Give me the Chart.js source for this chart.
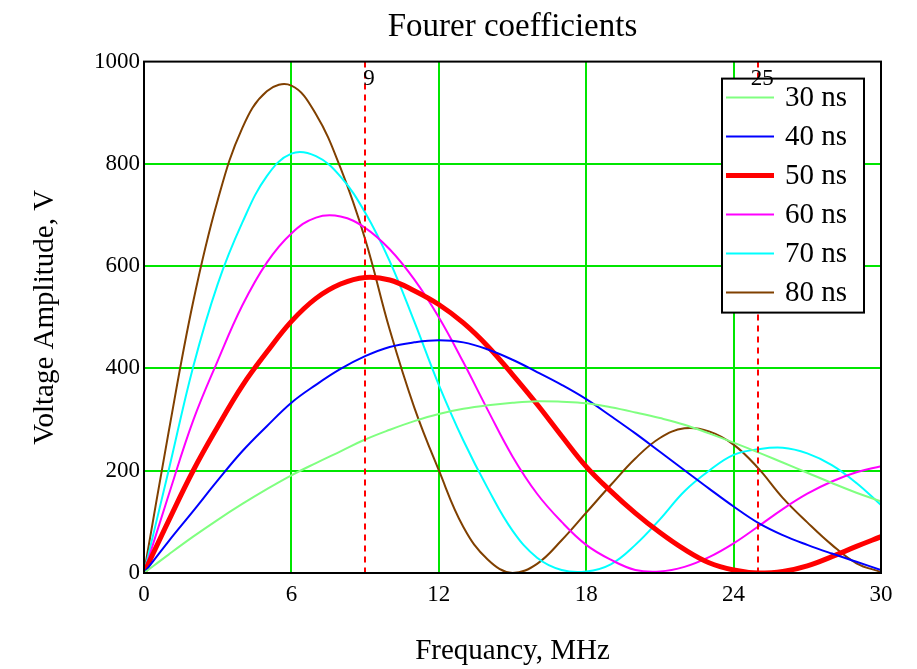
<!DOCTYPE html>
<html>
<head>
<meta charset="utf-8">
<title>Fourer coefficients</title>
<script src="https://cdn.jsdelivr.net/npm/chart.js@4.4.0/dist/chart.umd.min.js"></script>
<style>
  body { margin: 0; background: #fff; }
  #wrap { width: 917px; height: 669px; }
</style>
</head>
<body>
<div id="wrap"><canvas id="myChart" width="917" height="669"></canvas></div>
<script>
// frequency samples, MHz
const freqs = [0,1,2,3,4,5,6,7,8,9,10,11,12,13,14,15,16,17,18,19,20,21,22,23,24,25,26,27,28,29,30];

// amplitudes, V
const amp30 = [0,36,71,104,135,164,191,215,238,261,280,297,311,321,328,333,336,335,332,324,314,303,290,273,255,236,216,196,176,157,140];
const amp40 = [0,62,121,181,238,287,333,368,399,424,442,451,455,451,437,417,393,368,340,307,273,237,201,165,130,98,74,55,38,22,6];
const amp50 = [0,102,200,286,366,432,492,537,565,578,573,552,525,489,443,388,330,268,208,160,117,79,46,20,6,0,3,14,32,52,71];
const amp60 = [0,152,298,415,523,607,664,695,697,675,633,574,500,412,318,228,155,100,55,26,6,3,12,31,58,91,125,155,179,197,209];
const amp70 = [0,200,403,565,685,776,820,815,775,705,610,492,368,259,165,83,30,6,3,17,55,105,160,200,231,242,245,234,211,176,133];
const amp80 = [0,275,530,729,870,942,953,897,792,653,476,324,201,90,26,0,18,64,118,172,224,264,283,277,251,205,147,99,55,19,2];

const seriesNames = ['30 ns','40 ns','50 ns','60 ns','70 ns','80 ns'];
const seriesColors = ['#80ff80','#0000ff','#ff0000','#ff00ff','#00ffff','#804000'];
const seriesWidths = [2,2,5,2,2,2];
const allAmps = [amp30, amp40, amp50, amp60, amp70, amp80];

// dashed marker lines
const markerFreqs = [9, 25];

const xTicks = [0,6,12,18,24,30];
const yTicks = [0,200,400,600,800,1000];

const serif = "'Liberation Serif', 'Times New Roman', serif";

let datasets = allAmps.map(function(a, i) {
  return {
    label: seriesNames[i],
    data: freqs.map(function(f, j) { return {x: f, y: a[j]}; }),
    borderColor: seriesColors[i],
    backgroundColor: seriesColors[i],
    borderWidth: seriesWidths[i],
    pointRadius: 0,
    tension: 0.4,
    fill: false
  };
});

const extras = {
  id: 'extras',
  afterDatasetsDraw(chart) {
    const ctx = chart.ctx;
    const area = chart.chartArea;
    const xs = chart.scales.x;

    // dashed red lines
    ctx.save();
    ctx.strokeStyle = '#ff0000';
    ctx.lineWidth = 2;
    ctx.setLineDash([6, 5]);
    markerFreqs.forEach(function(f) {
      const px = Math.round(xs.getPixelForValue(f));
      ctx.beginPath();
      ctx.moveTo(px, area.top);
      ctx.lineTo(px, area.bottom);
      ctx.stroke();
    });
    ctx.restore();

    // frame
    ctx.save();
    ctx.strokeStyle = '#000';
    ctx.lineWidth = 2;
    ctx.strokeRect(area.left, area.top, area.right - area.left, area.bottom - area.top);
    ctx.restore();

    // legend box
    const boxW = 142, boxH = 234, rowH = 39;
    const bx = area.right - 17 - boxW;
    const by = area.top + 17;
    ctx.save();
    ctx.fillStyle = '#fff';
    ctx.fillRect(bx, by, boxW, boxH);
    ctx.strokeStyle = '#000';
    ctx.lineWidth = 2;
    ctx.strokeRect(bx, by, boxW, boxH);
    ctx.font = '29px ' + serif;
    ctx.textBaseline = 'middle';
    ctx.textAlign = 'left';
    seriesNames.forEach(function(name, i) {
      const cy = by + 19 + i * rowH;
      ctx.strokeStyle = seriesColors[i];
      ctx.lineWidth = seriesWidths[i];
      ctx.beginPath();
      ctx.moveTo(bx + 4, cy);
      ctx.lineTo(bx + 52, cy);
      ctx.stroke();
      ctx.fillStyle = '#000';
      ctx.fillText(name, bx + 63, cy + 1);
    });
    ctx.restore();

    // marker labels
    ctx.save();
    ctx.font = '23px ' + serif;
    ctx.fillStyle = '#000';
    ctx.textAlign = 'center';
    ctx.textBaseline = 'alphabetic';
    markerFreqs.forEach(function(f) {
      const px = xs.getPixelForValue(f);
      ctx.fillText(String(f), px + 4, area.top + 23);
    });
    ctx.restore();
  }
};

var ctx = document.getElementById('myChart').getContext('2d');
var myChart = new Chart(ctx, {
  type: 'line',
  data: { datasets: datasets },
  options: {
    responsive: false,
    animation: false,
    layout: { padding: { left: 0, right: 36, top: 0, bottom: 0 } },
    plugins: {
      legend: { display: false },
      tooltip: { enabled: false },
      title: {
        display: true,
        fullSize: false,
        text: 'Fourer coefficients',
        color: '#000',
        font: { family: serif, size: 33, weight: 'normal', lineHeight: 1.2 },
        padding: { top: 8, bottom: 14 }
      }
    },
    scales: {
      x: {
        type: 'linear',
        min: 0,
        max: 30,
        afterFit: function(scale) { scale.height = 96; },
        afterBuildTicks: function(scale) { scale.ticks = xTicks.map(function(v) { return {value: v}; }); },
        ticks: { color: '#000', padding: 8, font: { family: serif, size: 23 }, maxRotation: 0,
          callback: function(v) { return String(v); } },
        grid: {
          drawTicks: false,
          lineWidth: 2,
          color: function(c) { return (c.tick && (c.tick.value === 0 || c.tick.value === 30)) ? 'rgba(0,0,0,0)' : '#00e600'; }
        },
        border: { display: false },
        title: {
          display: true,
          text: 'Frequancy, MHz',
          color: '#000',
          font: { family: serif, size: 29, weight: 'normal' },
          padding: { top: 0, bottom: 0 }
        }
      },
      y: {
        type: 'linear',
        min: 0,
        max: 1000,
        afterFit: function(scale) { scale.width = 144; },
        afterBuildTicks: function(scale) { scale.ticks = yTicks.map(function(v) { return {value: v}; }); },
        ticks: { color: '#000', padding: 4, font: { family: serif, size: 23 },
          callback: function(v) { return String(v); } },
        grid: {
          drawTicks: false,
          lineWidth: 2,
          color: function(c) { return (c.tick && (c.tick.value === 0 || c.tick.value === 1000)) ? 'rgba(0,0,0,0)' : '#00e600'; }
        },
        border: { display: false },
        title: {
          display: true,
          text: 'Voltage Amplitude, V',
          color: '#000',
          font: { family: serif, size: 29, weight: 'normal' },
          padding: { top: 28, bottom: 0 }
        }
      }
    }
  },
  plugins: [extras]
});
</script>
</body>
</html>
